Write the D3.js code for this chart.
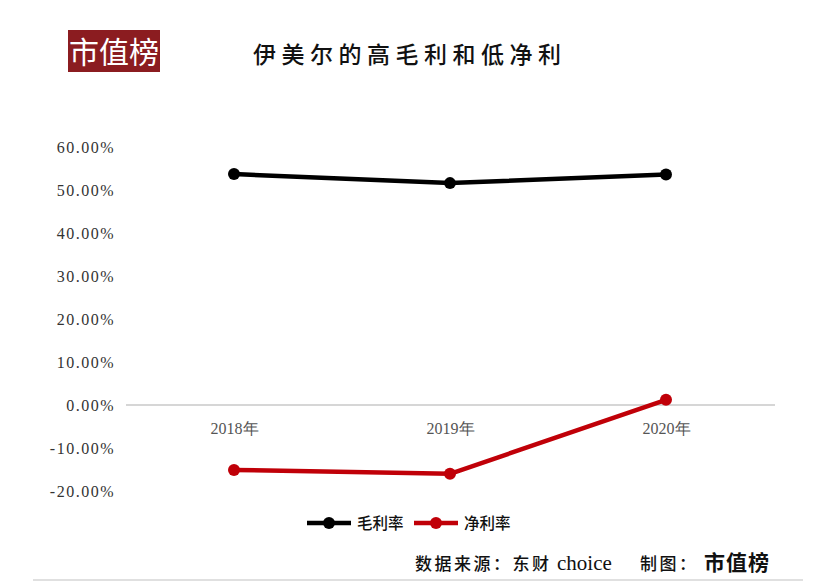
<!DOCTYPE html>
<html><head><meta charset="utf-8">
<script src="https://cdn.jsdelivr.net/npm/d3@7"></script>
<style>body{margin:0;background:#fff}svg{display:block}</style>
</head><body>
<svg id="c" width="830" height="582"></svg>
<script>
const categories = ["2018年", "2019年", "2020年"];
const grossMargin = [53.7, 51.6, 53.6];
const netMargin = [-15.1, -16.0, 1.2];
const yTicks = [60, 50, 40, 30, 20, 10, 0, -10, -20];
const seriesNames = ["毛利率", "净利率"];
const title = "伊美尔的高毛利和低净利";

const svg = d3.select("#c");
const x = d3.scalePoint().domain(categories).range([126, 774]).padding(0.5);
const y = d3.scaleLinear().domain([-20, 60]).range([491, 147]);
const serif = "'Liberation Serif','DejaVu Serif',serif";
const cjk = "'Noto Sans CJK SC','Noto Sans',sans-serif";

// logo
svg.append("rect").attr("x", 68).attr("y", 30).attr("width", 92).attr("height", 42).attr("fill", "#8b1c20");
svg.append("text").attr("x", 114).attr("y", 63).attr("text-anchor", "middle")
  .attr("font-family", cjk).attr("font-size", 30).attr("fill", "#fff").text("市值榜");

// title
svg.append("text").attr("x", 253).attr("y", 63)
  .attr("font-family", cjk).attr("font-size", 23).attr("font-weight", 500)
  .attr("letter-spacing", "5.5px").attr("fill", "#111").text(title);

// y axis labels
const yAxis = d3.axisLeft(y).tickValues(yTicks).tickSize(0).tickPadding(0)
  .tickFormat(d => d.toFixed(2) + "%");
const ga = svg.append("g").attr("transform", "translate(115,0)").call(yAxis);
ga.select(".domain").remove();
ga.selectAll("text").attr("font-family", serif).attr("font-size", 16)
  .attr("fill", "#333").attr("letter-spacing", "1.5px").attr("dy", "0.35em");

// zero line
svg.append("line").attr("x1", 126).attr("x2", 775).attr("y1", y(0)).attr("y2", y(0))
  .attr("stroke", "#d6d6d6").attr("stroke-width", 2);

// x labels
const xAxis = d3.axisBottom(x).tickSize(0).tickPadding(0);
const gx = svg.append("g").attr("transform", "translate(0,423)").call(xAxis);
gx.select(".domain").remove();
gx.selectAll("text").attr("font-family", serif).attr("font-size", 16).attr("fill", "#555");

// series
const series = [
  {name: seriesNames[0], values: grossMargin, color: "#000000"},
  {name: seriesNames[1], values: netMargin, color: "#c00008"}
];
const line = d3.line().x((d, i) => x(categories[i])).y(d => y(d));
series.forEach(s => {
  svg.append("path").attr("d", line(s.values)).attr("fill", "none")
    .attr("stroke", s.color).attr("stroke-width", 4.5).attr("stroke-linejoin", "round");
  svg.selectAll(null).data(s.values).enter().append("circle")
    .attr("cx", (d, i) => x(categories[i])).attr("cy", d => y(d)).attr("r", 6)
    .attr("fill", s.color);
});

// legend
const lg = [{x: 307}, {x: 414}];
series.forEach((s, i) => {
  const lx = lg[i].x;
  svg.append("line").attr("x1", lx).attr("x2", lx + 44).attr("y1", 523).attr("y2", 523)
    .attr("stroke", s.color).attr("stroke-width", 4.5);
  svg.append("circle").attr("cx", lx + 22).attr("cy", 523).attr("r", 6).attr("fill", s.color);
  svg.append("text").attr("x", lx + 50).attr("y", 529).attr("font-family", cjk)
    .attr("font-size", 15.5).attr("font-weight", 500).attr("fill", "#111").text(s.name);
});

// footer
const fy = 570;
svg.append("text").attr("x", 415).attr("y", fy).attr("font-family", cjk).attr("font-size", 17)
  .attr("font-weight", 500).attr("letter-spacing", "2.5px").attr("fill", "#111").text("数据来源：东财");
svg.append("text").attr("x", 557).attr("y", fy).attr("font-family", serif).attr("font-size", 21)
  .attr("fill", "#111").text("choice");
svg.append("text").attr("x", 640).attr("y", fy).attr("font-family", cjk).attr("font-size", 17)
  .attr("font-weight", 500).attr("letter-spacing", "2.5px").attr("fill", "#111").text("制图：");
svg.append("text").attr("x", 704).attr("y", fy).attr("font-family", cjk).attr("font-size", 21)
  .attr("font-weight", 700).attr("letter-spacing", "1px").attr("fill", "#111").text("市值榜");

svg.append("line").attr("x1", 33).attr("x2", 803).attr("y1", 580).attr("y2", 580)
  .attr("stroke", "#d6d6d6").attr("stroke-width", 1.5);
</script>
</body></html>
